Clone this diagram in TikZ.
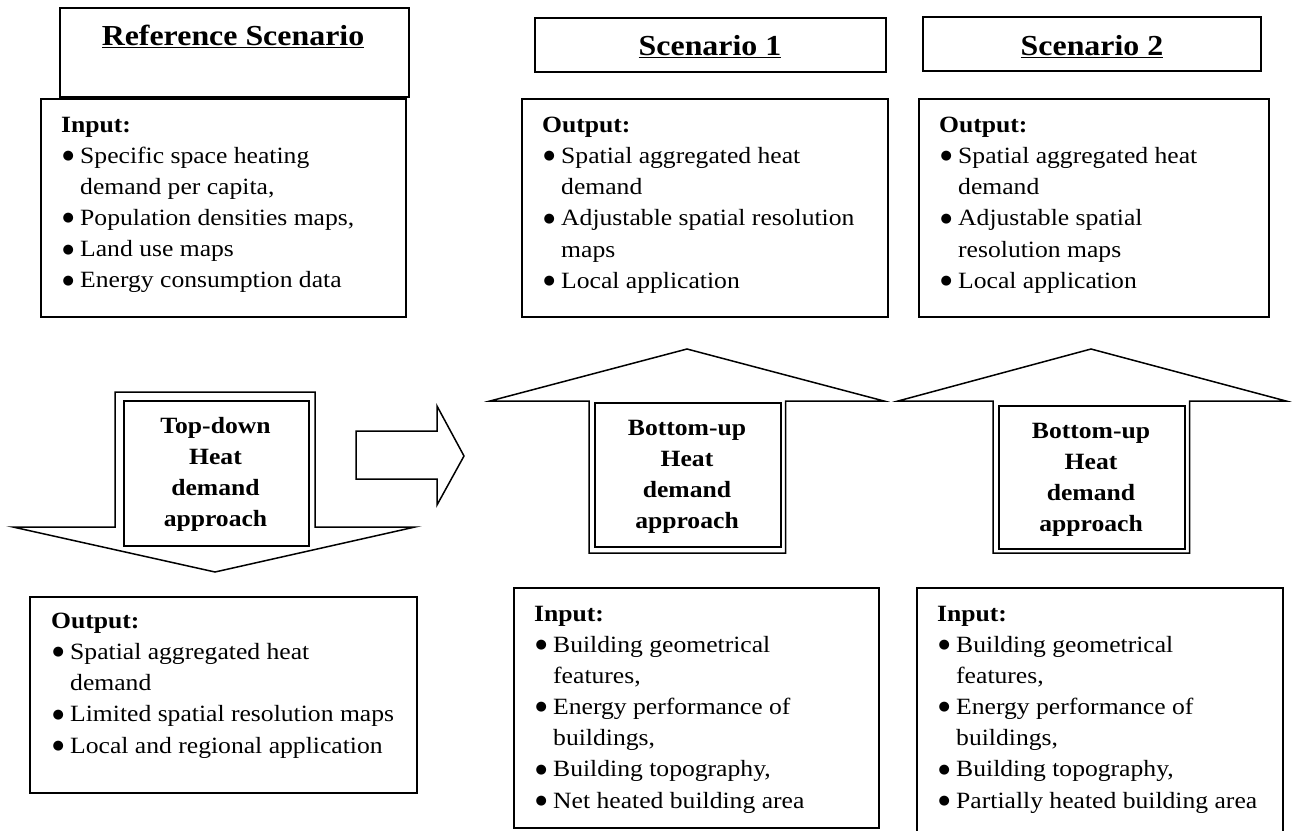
\documentclass[tikz,border=0pt]{standalone}
\usepackage{fontspec}
\setmainfont{Liberation Serif}[FakeStretch=1.1]
\newfontfamily\bulfont{DejaVu Sans}
\newcommand{\bl}[1]{\makebox[19pt][l]{\kern1.5pt\raisebox{3.8pt}{\fontsize{13}{14}\bulfont ●}}#1\\}
\newcommand{\cn}[1]{\hspace*{19pt}#1\\}
\newcommand{\ttl}[1]{\textbf{#1}\\}
\tikzset{
  x=1pt,y=-1pt,
  box/.style={draw=black,line width=1.6pt,fill=white,inner sep=0pt,anchor=north west},
  arrowshape/.style={draw=black,line width=1.5pt,fill=white,line join=miter},
  inbox/.style={draw=black,line width=1.8pt,fill=white,inner sep=0pt,anchor=north west},
  body/.style={anchor=north west,align=left,inner sep=0pt,font=\fontsize{23.3}{31.1}\selectfont},
  head/.style={inner sep=0pt,font=\fontsize{29}{34}\selectfont\bfseries},
  apptext/.style={inner sep=0pt,align=center,font=\fontsize{23.3}{31}\selectfont\bfseries},
}
\begin{document}
\begin{tikzpicture}
\useasboundingbox (0,0) rectangle (1292,830);
% reference column
\node[box,minimum width=349pt,minimum height=89pt] (refbox) at (59,7) {};
\node[box,minimum width=365pt,minimum height=218pt] (inref) at (40,98) {};
\node[head] (reft) at (233,36) {\underline{Reference Scenario}};
\node[body] (inreft) at (61,117) {\ttl{Input:}\bl{Specific space heating}\cn{demand per capita,}\bl{Population densities maps,}\bl{Land use maps}\bl{Energy consumption data}};
% scenario 1
\node[box,minimum width=351pt,minimum height=54pt] (s1box) at (534,17) {};
\node[head] (s1t) at (710,47) {\underline{Scenario 1}};
\node[box,minimum width=366pt,minimum height=218pt] (o1) at (521,98) {};
\node[body] (o1t) at (542,117) {\ttl{Output:}\bl{Spatial aggregated heat}\cn{demand}\bl{Adjustable spatial resolution}\cn{maps}\bl{Local application}};
% scenario 2
\node[box,minimum width=338pt,minimum height=54pt] (s2box) at (922,16) {};
\node[head] (s2t) at (1092,47) {\underline{Scenario 2}};
\node[box,minimum width=350pt,minimum height=218pt] (o2) at (918,98) {};
\node[body] (o2t) at (939,117) {\ttl{Output:}\bl{Spatial aggregated heat}\cn{demand}\bl{Adjustable spatial}\cn{resolution maps}\bl{Local application}};
% arrows
\draw[arrowshape] (115,392) -- (315,392) -- (315,527) -- (415,527) -- (215,572) -- (13,527) -- (115,527) -- cycle;
\node[inbox,minimum width=185pt,minimum height=145pt] (tdbox) at (123,400) {};
\node[apptext] (tdt) at (215.5,474) {Top-down\\Heat\\demand\\approach};
\draw[arrowshape] (356,431) -- (437,431) -- (437,406) -- (464,456) -- (437,505) -- (437,479) -- (356,479) -- cycle;
\draw[arrowshape] (589,553) -- (589,401) -- (490,401) -- (687,349) -- (884,401) -- (785.5,401) -- (785.5,553) -- cycle;
\node[inbox,minimum width=186pt,minimum height=144pt] (b1box) at (594,402) {};
\node[apptext] (b1t) at (687,477) {Bottom-up\\Heat\\demand\\approach};
\draw[arrowshape] (993,553) -- (993,401) -- (898,401) -- (1091,349) -- (1286,401) -- (1189.5,401) -- (1189.5,553) -- cycle;
\node[inbox,minimum width=186pt,minimum height=143pt] (b2box) at (998,405) {};
\node[apptext] (b2t) at (1091,480) {Bottom-up\\Heat\\demand\\approach};
% bottom boxes
\node[box,minimum width=387pt,minimum height=196pt] (otd) at (29,596) {};
\node[body] (otdt) at (51,613) {\ttl{Output:}\bl{Spatial aggregated heat}\cn{demand}\bl{Limited spatial resolution maps}\bl{Local and regional application}};
\node[box,minimum width=365pt,minimum height=240pt] (in1) at (513,587) {};
\node[body] (in1t) at (534,606) {\ttl{Input:}\bl{Building geometrical}\cn{features,}\bl{Energy performance of}\cn{buildings,}\bl{Building topography,}\bl{Net heated building area}};
\node[box,minimum width=366pt,minimum height=250pt] (in2) at (916,587) {};
\node[body] (in2t) at (937,606) {\ttl{Input:}\bl{Building geometrical}\cn{features,}\bl{Energy performance of}\cn{buildings,}\bl{Building topography,}\bl{Partially heated building area}};
\end{tikzpicture}
\end{document}
